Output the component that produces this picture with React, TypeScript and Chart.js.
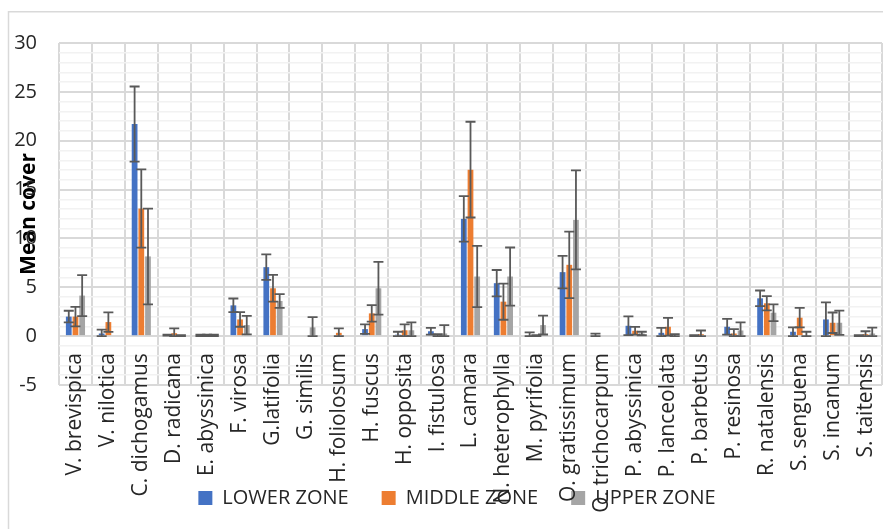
import React, { useEffect, useRef } from 'react';
import { Chart, registerables } from 'chart.js';

Chart.register(...registerables);

const categories = [
  'V. brevispica', 'V. nilotica', 'C. dichogamus', 'D. radicana', 'E. abyssinica',
  'F. virosa', 'G.latifolia', 'G. similis', 'H. foliolosum', 'H. fuscus',
  'H. opposita', 'I. fistulosa', 'L. camara', 'N. heterophylla', 'M. pyrifolia',
  'O. gratissimum', 'O. trichocarpum', 'P. abyssinica', 'P. lanceolata', 'P. barbetus',
  'P. resinosa', 'R. natalensis', 'S. senguena', 'S. incanum', 'S. taitensis',
];

const seriesNames = ['LOWER ZONE', 'MIDDLE ZONE', 'UPPER ZONE'];

const lowerZone = [2.0, 0.27, 21.7, 0.1, 0.05, 3.15, 7.06, 0, 0, 0.72, 0.15, 0.5, 12.0, 5.42, 0.1, 6.55, 0.1, 1.06, 0.34, 0.05, 0.96, 3.87, 0.45, 1.71, 0.05];
const lowerErr = [0.6, 0.4, 3.85, 0.05, 0.1, 0.7, 1.3, 0, 0, 0.48, 0.3, 0.35, 2.33, 1.35, 0.28, 1.66, 0.15, 0.96, 0.5, 0.05, 0.8, 0.8, 0.45, 1.75, 0.05];

const middleZone = [2.0, 1.44, 13.06, 0.3, 0.05, 1.71, 4.9, 0, 0.34, 2.33, 0.6, 0.1, 17.04, 3.53, 0.05, 7.3, 0, 0.55, 0.96, 0.2, 0.27, 3.36, 1.89, 1.37, 0.2];
const middleErr = [1.0, 1.0, 4.0, 0.5, 0.1, 0.75, 1.37, 0, 0.45, 0.84, 0.6, 0.1, 4.9, 1.85, 0.05, 3.4, 0, 0.4, 0.9, 0.38, 0.45, 0.73, 1.0, 1.05, 0.3];

const upperZone = [4.15, 0, 8.16, 0.05, 0.05, 1.13, 3.6, 0.9, 0, 4.9, 0.6, 0.27, 6.1, 6.1, 1.13, 11.9, 0, 0.27, 0.1, 0, 0.58, 2.4, 0.1, 1.37, 0.27];
const upperErr = [2.1, 0, 4.9, 0.05, 0.1, 0.95, 0.7, 1.05, 0, 2.7, 0.8, 0.85, 3.13, 2.97, 0.96, 5.07, 0, 0.18, 0.1, 0, 0.82, 0.86, 0.35, 1.25, 0.6];

const yMin = -5;
const yMax = 30;
const yStep = 1;
const yLabelStep = 5;
const yTitle = 'Mean cover';

const colors = ['#4472C4', '#ED7D31', '#A5A5A5'];
const FONT = '"Open Sans", Lato, sans-serif';

export default function App() {
  const ref = useRef<HTMLCanvasElement>(null);

  useEffect(() => {
    document.body.style.margin = '0';
    document.body.style.overflow = 'hidden';
    const canvas = ref.current!;
    const values = [lowerZone, middleZone, upperZone];
    const errors = [lowerErr, middleErr, upperErr];

    const framePlugin = {
      id: 'frame',
      beforeDraw(chart: any) {
        const ctx = chart.ctx;
        ctx.save();
        ctx.fillStyle = '#ffffff';
        ctx.fillRect(0, 0, chart.width, chart.height);
        ctx.strokeStyle = '#d9d9d9';
        ctx.lineWidth = 1.5;
        ctx.beginPath();
        ctx.moveTo(8.5, chart.height);
        ctx.lineTo(8.5, 11.75);
        ctx.lineTo(chart.width, 11.75);
        ctx.stroke();
        ctx.restore();
      },
    };

    const errorBarPlugin = {
      id: 'errorBars',
      afterDatasetsDraw(chart: any) {
        const ctx = chart.ctx;
        const yScale = chart.scales.y;
        ctx.save();
        ctx.strokeStyle = '#595959';
        ctx.lineWidth = 1.8;
        chart.data.datasets.forEach((ds: any, i: number) => {
          const meta = chart.getDatasetMeta(i);
          const errs = errors[i];
          meta.data.forEach((el: any, j: number) => {
            const v = ds.data[j];
            const e = errs[j];
            if (!e) return;
            const x = el.x;
            const top = yScale.getPixelForValue(v + e);
            const bot = yScale.getPixelForValue(Math.max(v - e, 0));
            const half = 5;
            ctx.beginPath();
            ctx.moveTo(x, top);
            ctx.lineTo(x, bot);
            ctx.moveTo(x - half, top);
            ctx.lineTo(x + half, top);
            ctx.moveTo(x - half, bot);
            ctx.lineTo(x + half, bot);
            ctx.stroke();
          });
        });
        ctx.restore();
      },
    };

    const zeroPad = (s: any) => {
      s.paddingLeft = 0;
      s.paddingRight = 0;
      s.paddingTop = 0;
      s.paddingBottom = 0;
    };

    const chart = new Chart(canvas, {
      type: 'bar',
      data: {
        labels: categories,
        datasets: values.map((data, i) => ({
          label: seriesNames[i],
          data,
          xAxisID: 'x',
          yAxisID: 'y',
          backgroundColor: colors[i],
          borderWidth: 0,
          categoryPercentage: 0.61,
          barPercentage: 0.86,
        })),
      },
      options: {
        responsive: false,
        animation: false,
        devicePixelRatio: 1,
        layout: { padding: { left: 8, right: -23, top: 43, bottom: 11 } },
        plugins: {
          legend: {
            position: 'bottom',
            labels: {
              boxWidth: 14,
              boxHeight: 14,
              padding: 33,
              color: '#262626',
              font: { family: FONT, size: 20 },
            },
          },
          tooltip: { enabled: false },
        },
        scales: {
          x: {
            type: 'category',
            position: { y: 0 } as any,
            offset: true,
            grid: {
              display: true,
              offset: true,
              color: '#d9d9d9',
              lineWidth: 2,
              drawTicks: false,
            },
            border: { display: false },
            ticks: {
              autoSkip: false,
              minRotation: 90,
              maxRotation: 90,
              padding: 17,
              color: '#262626',
              font: { family: FONT, size: 21 },
            },
            afterFit: zeroPad,
          },
          y: {
            type: 'linear',
            position: 'left',
            min: yMin,
            max: yMax,
            grid: {
              drawTicks: false,
              color: (c: any) => (c.tick && c.tick.value % yLabelStep === 0 ? '#d9d9d9' : '#f2f2f2'),
              lineWidth: (c: any) => (c.tick && c.tick.value % yLabelStep === 0 ? 2 : 1.5),
            },
            border: { display: false },
            ticks: {
              stepSize: yStep,
              autoSkip: false,
              padding: 22,
              color: '#262626',
              font: { family: FONT, size: 20 },
              callback: (v: any) => (Number(v) % yLabelStep === 0 ? String(v) : ''),
            },
            title: {
              display: true,
              text: yTitle,
              color: '#000000',
              font: { family: FONT, size: 21, weight: 'bold' },
              padding: { top: 8, bottom: 0 },
            },
            afterFit: (s: any) => {
              zeroPad(s);
              s.width = 51;
            },
          },
          xb: {
            type: 'category',
            position: 'bottom',
            display: true,
            grid: { display: false, drawTicks: false },
            border: { display: false },
            ticks: { display: false },
            afterFit: (s: any) => {
              zeroPad(s);
              s.height = 70;
            },
          },
          yr: {
            type: 'linear',
            position: 'right',
            display: true,
            grid: { display: false, drawTicks: false },
            border: { display: false },
            ticks: { display: false },
            afterFit: (s: any) => {
              zeroPad(s);
              s.width = 24;
            },
          },
        },
      },
      plugins: [framePlugin, errorBarPlugin],
    } as any);

    return () => chart.destroy();
  }, []);

  return (
    <div style={{ width: 883, height: 529 }}>
      <canvas ref={ref} width={883} height={529} style={{ display: 'block', width: 883, height: 529 }} />
    </div>
  );
}
